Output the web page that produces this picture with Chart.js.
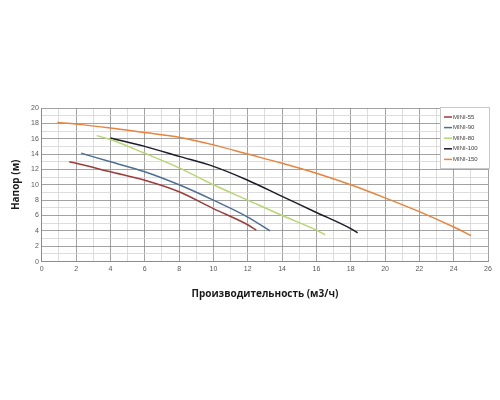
<!DOCTYPE html>
<html>
<head>
<meta charset="utf-8">
<script src="https://cdn.jsdelivr.net/npm/chart.js@4/dist/chart.umd.min.js"></script>
<style>
  html, body { margin: 0; padding: 0; background: #fff; }
  #wrap { width: 500px; height: 400px; position: relative; }
</style>
</head>
<body>
<div id="wrap"><canvas id="chart"></canvas></div>
<script>
// --- Data ---
const seriesNames = ["MINI-55", "MINI-90", "MINI-80", "MINI-100", "MINI-150"];
const seriesColors = ["#9e3b3b", "#4d6f93", "#b5d672", "#1c1c2c", "#e8843c"];

const mini55Flow = [1.6, 2, 4, 6, 8, 10, 12, 12.5];
const mini55Head = [13.0, 12.8, 11.7, 10.6, 9.1, 6.9, 4.8, 4.1];

const mini90Flow = [2.3, 4, 6, 8, 10, 12, 13.3];
const mini90Head = [14.1, 13.0, 11.7, 10.0, 8.0, 5.8, 4.0];

const mini80Flow = [3.2, 4, 6, 8, 10, 12, 14, 16, 16.5];
const mini80Head = [16.4, 15.9, 14.1, 12.2, 10.0, 8.0, 6.0, 4.1, 3.5];

const mini100Flow = [4, 6, 8, 10, 12, 14, 16, 18, 18.4];
const mini100Head = [16.1, 15.0, 13.7, 12.4, 10.6, 8.5, 6.4, 4.3, 3.75];

const mini150Flow = [0.9, 2, 4, 6, 8, 10, 12, 14, 16, 18, 20, 22, 24, 25];
const mini150Head = [18.1, 17.9, 17.4, 16.8, 16.2, 15.2, 14.0, 12.8, 11.5, 10.0, 8.3, 6.5, 4.5, 3.4];

const flows = [mini55Flow, mini90Flow, mini80Flow, mini100Flow, mini150Flow];
const heads = [mini55Head, mini90Head, mini80Head, mini100Head, mini150Head];

// --- Helpers ---
function toPoints(xs, ys) {
  return xs.map((x, i) => ({ x: x, y: ys[i] }));
}

const datasets = seriesNames.map((name, i) => ({
  label: name,
  data: toPoints(flows[i], heads[i]),
  borderColor: seriesColors[i],
  backgroundColor: seriesColors[i],
  borderWidth: 1.5,
  pointRadius: 0,
  showLine: true,
  cubicInterpolationMode: "monotone",
  fill: false,
}));

// Legend box drawn inside the plot area (top right)
const boxLegend = {
  id: "boxLegend",
  afterDraw(chart) {
    const ctx = chart.ctx;
    const x0 = 440, y0 = 107, w = 50, h = 62;
    ctx.save();
    ctx.fillStyle = "#fff";
    ctx.fillRect(x0, y0, w, h);
    ctx.strokeStyle = "#c8c8c8";
    ctx.lineWidth = 1;
    ctx.strokeRect(x0 + 0.5, y0 + 0.5, w - 1, h - 1);
    ctx.font = "6px 'Liberation Sans', Arial, sans-serif";
    ctx.textBaseline = "middle";
    chart.data.datasets.forEach((ds, i) => {
      const y = y0 + 10 + i * 10.6;
      ctx.strokeStyle = ds.borderColor;
      ctx.lineWidth = 1.5;
      ctx.beginPath();
      ctx.moveTo(x0 + 4, y);
      ctx.lineTo(x0 + 12, y);
      ctx.stroke();
      ctx.fillStyle = "#404040";
      ctx.fillText(ds.label, x0 + 13, y);
    });
    ctx.restore();
  },
};

function gridColor(c) {
  const v = c.tick ? c.tick.value : 0;
  return v % 2 === 0 ? "#8c8c8c" : "#d4d4d4";
}

new Chart(document.getElementById("chart"), {
  type: "scatter",
  data: { datasets: datasets },
  plugins: [boxLegend],
  options: {
    responsive: true,
    maintainAspectRatio: false,
    animation: false,
    layout: { padding: { top: 108, bottom: 96, left: 6, right: 12 } },
    plugins: {
      legend: { display: false },
      tooltip: { enabled: false },
    },
    scales: {
      x: {
        type: "linear",
        min: 0,
        max: 26,
        ticks: {
          stepSize: 1,
          autoSkip: false,
          maxRotation: 0,
          color: "#595959",
          font: { size: 7, family: "'Liberation Sans', Arial, sans-serif" },
          callback: (v) => (v % 2 === 0 ? v : ""),
        },
        grid: { color: gridColor, lineWidth: 0.8, drawTicks: false },
        border: { color: "#8c8c8c" },
        title: {
          display: true,
          text: "Производительность (м3/ч)",
          color: "#1a1a1a",
          font: { size: 10, weight: "bold", family: "'Open Sans', sans-serif" },
          padding: { top: 12 },
        },
      },
      y: {
        min: 0,
        max: 20,
        ticks: {
          stepSize: 1,
          autoSkip: false,
          color: "#595959",
          font: { size: 7, family: "'Liberation Sans', Arial, sans-serif" },
          callback: (v) => (v % 2 === 0 ? v : ""),
        },
        grid: { color: gridColor, lineWidth: 0.8, drawTicks: false },
        border: { color: "#8c8c8c" },
        title: {
          display: true,
          text: "Напор (м)",
          color: "#1a1a1a",
          font: { size: 10, weight: "bold", family: "'Open Sans', sans-serif" },
          padding: { bottom: 6 },
        },
      },
    },
  },
});
</script>
</body>
</html>
